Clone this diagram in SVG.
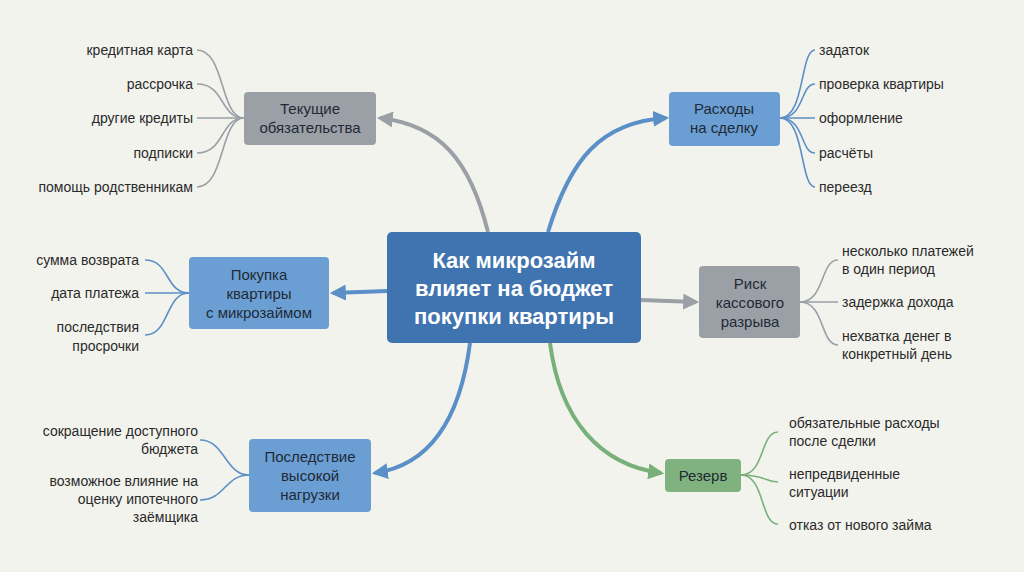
<svg xmlns="http://www.w3.org/2000/svg" width="1024" height="572" viewBox="0 0 1024 572">
<defs>
<style>
.t{font-family:"Liberation Sans",Arial,sans-serif;font-size:14px;fill:#2a2a2a}
.n{font-family:"Liberation Sans",Arial,sans-serif;font-size:15px;fill:#1f2a36;text-anchor:middle}
.c{font-family:"Liberation Sans",Arial,sans-serif;font-size:22px;font-weight:bold;fill:#fff;text-anchor:middle}
.g{stroke:#9aa0a6}.b{stroke:#5b8fc7}.gr{stroke:#78b07a}
.w{fill:none;stroke-width:4}.l{fill:none;stroke-width:1.6}
</style>
<marker id="ag" viewBox="0 0 10 10" refX="8" refY="5" markerWidth="4" markerHeight="4" orient="auto"><path d="M0,0L10,5L0,10z" fill="#9aa0a6"/></marker>
<marker id="ab" viewBox="0 0 10 10" refX="8" refY="5" markerWidth="4" markerHeight="4" orient="auto"><path d="M0,0L10,5L0,10z" fill="#5b8fc7"/></marker>
<marker id="agr" viewBox="0 0 10 10" refX="8" refY="5" markerWidth="4" markerHeight="4" orient="auto"><path d="M0,0L10,5L0,10z" fill="#78b07a"/></marker>
</defs>
<rect width="1024" height="572" fill="#f3f3ee"/>
<g id="connectors">
<path class="w g" d="M488,232 C470,160 440,125 380,118" marker-end="url(#ag)"/>
<path class="w b" d="M548,232 C570,160 600,122 666,118" marker-end="url(#ab)"/>
<path class="w b" d="M387,291 L333,293" marker-end="url(#ab)"/>
<path class="w g" d="M641,300 L696,302" marker-end="url(#ag)"/>
<path class="w b" d="M470,343 C460,420 430,465 375,473" marker-end="url(#ab)"/>
<path class="w gr" d="M550,343 C560,420 600,465 661,473" marker-end="url(#agr)"/>
<g class="l g"><path d="M244,118 C220,118 225,50 197,50"/><path d="M244,118 C220,118 225,84 197,84"/><path d="M244,118 L197,118"/><path d="M244,118 C220,118 225,153 197,153"/><path d="M244,118 C220,118 225,187 197,187"/></g>
<g class="l b"><path d="M780,118 C805,118 800,50 815,50"/><path d="M780,118 C805,118 800,84 815,84"/><path d="M780,118 L815,118"/><path d="M780,118 C805,118 800,153 815,153"/><path d="M780,118 C805,118 800,187 815,187"/></g>
<g class="l b"><path d="M189,293 C165,293 170,260 145,260"/><path d="M189,293 L145,293"/><path d="M189,293 C165,293 170,335 145,335"/></g>
<g class="l g"><path d="M800,302 C825,302 820,260 838,260"/><path d="M800,302 L838,302"/><path d="M800,302 C825,302 820,345 838,345"/></g>
<g class="l b"><path d="M249,475 C225,475 225,440 200,440"/><path d="M249,475 C225,475 225,500 200,500"/></g>
<g class="l gr"><path d="M741,475 C765,475 760,432 778,432"/><path d="M741,475 C765,475 765,482 778,482"/><path d="M741,475 C765,475 760,524 778,524"/></g>
</g>
<g id="center"><rect x="387" y="232" width="254" height="111" rx="5" fill="#3f74b0"/>
<text class="c" x="514" y="268">Как микрозайм</text><text class="c" x="514" y="296">влияет на бюджет</text><text class="c" x="514" y="324">покупки квартиры</text></g>
<g id="n1"><rect x="244" y="92" width="132" height="53" rx="4" fill="#9aa0a6"/><text class="n" x="310" y="114">Текущие</text><text class="n" x="310" y="133">обязательства</text></g>
<g id="n2"><rect x="669" y="92" width="111" height="54" rx="4" fill="#6b9fd4"/><text class="n" x="724" y="114">Расходы</text><text class="n" x="724" y="133">на сделку</text></g>
<g id="n3"><rect x="189" y="257" width="140" height="72" rx="4" fill="#6b9fd4"/><text class="n" x="259" y="280">Покупка</text><text class="n" x="259" y="299">квартиры</text><text class="n" x="259" y="318">с микрозаймом</text></g>
<g id="n4"><rect x="699" y="266" width="101" height="72" rx="4" fill="#9aa0a6"/><text class="n" x="750" y="289">Риск</text><text class="n" x="750" y="308">кассового</text><text class="n" x="750" y="327">разрыва</text></g>
<g id="n5"><rect x="249" y="439" width="122" height="73" rx="4" fill="#6b9fd4"/><text class="n" x="310" y="462">Последствие</text><text class="n" x="310" y="481">высокой</text><text class="n" x="310" y="500">нагрузки</text></g>
<g id="n6"><rect x="665" y="459" width="76" height="33" rx="4" fill="#7fb27f"/><text class="n" x="703" y="481">Резерв</text></g>
<g id="leaves" class="t">
<text x="193" y="55" text-anchor="end">кредитная карта</text>
<text x="193" y="89" text-anchor="end">рассрочка</text>
<text x="193" y="123" text-anchor="end">другие кредиты</text>
<text x="193" y="158" text-anchor="end">подписки</text>
<text x="193" y="192" text-anchor="end">помощь родственникам</text>
<text x="819" y="55">задаток</text>
<text x="819" y="89">проверка квартиры</text>
<text x="819" y="123">оформление</text>
<text x="819" y="158">расчёты</text>
<text x="819" y="192">переезд</text>
<text x="139" y="265" text-anchor="end">сумма возврата</text>
<text x="139" y="298" text-anchor="end">дата платежа</text>
<text x="139" y="332" text-anchor="end">последствия</text>
<text x="139" y="351" text-anchor="end">просрочки</text>
<text x="842" y="256">несколько платежей</text>
<text x="842" y="274">в один период</text>
<text x="842" y="307">задержка дохода</text>
<text x="842" y="341">нехватка денег в</text>
<text x="842" y="359">конкретный день</text>
<text x="198" y="436" text-anchor="end">сокращение доступного</text>
<text x="198" y="454" text-anchor="end">бюджета</text>
<text x="198" y="486" text-anchor="end">возможное влияние на</text>
<text x="198" y="504" text-anchor="end">оценку ипотечного</text>
<text x="198" y="522" text-anchor="end">заёмщика</text>
<text x="789" y="428">обязательные расходы</text>
<text x="789" y="446">после сделки</text>
<text x="789" y="479">непредвиденные</text>
<text x="789" y="497">ситуации</text>
<text x="789" y="530">отказ от нового займа</text>
</g>
</svg>
